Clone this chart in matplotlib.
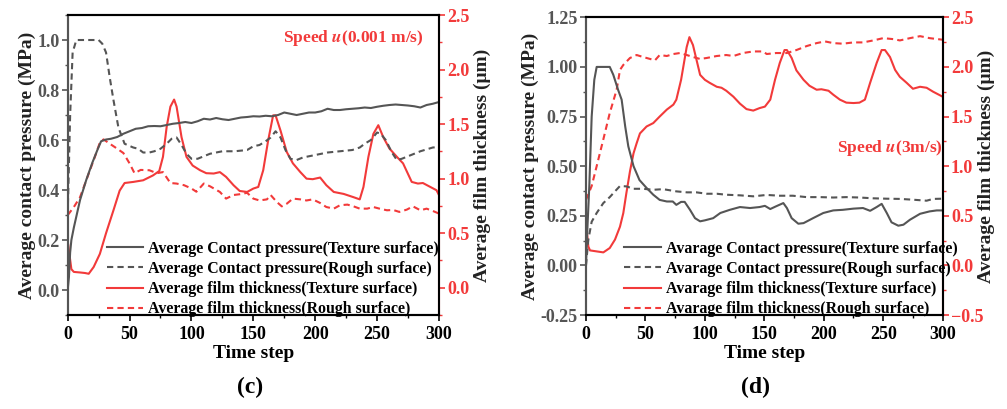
import numpy as np
import matplotlib
matplotlib.use("Agg")
import matplotlib.pyplot as plt
from matplotlib.ticker import MultipleLocator, FormatStrFormatter

plt.rcParams['font.family'] = ['Liberation Serif', 'DejaVu Serif']
plt.rcParams['font.weight'] = 'bold'
plt.rcParams['mathtext.fontset'] = 'stix'

GRAY = '#555555'
RED = '#f23a3a'

# ---------------- panel (c): speed 0.001 m/s ----------------
c_pt_t = [0, 1, 2, 3, 5, 10, 15, 20, 24, 27, 31, 35, 40, 45, 50, 55, 60, 65, 70, 75, 80, 85,
          90, 95, 100, 105, 110, 115, 120, 125, 130, 135, 140, 145, 150, 155, 160, 165, 170,
          175, 180, 185, 190, 195, 200, 205, 210, 215, 220, 225, 230, 235, 240, 245, 250, 255,
          260, 265, 270, 275, 280, 285, 290, 295, 300]
c_pt_p = [0.0, 0.05, 0.15, 0.2, 0.25, 0.36, 0.44, 0.51, 0.56, 0.595, 0.602, 0.605, 0.612,
          0.625, 0.635, 0.645, 0.648, 0.655, 0.656, 0.655, 0.66, 0.665, 0.668, 0.672, 0.668,
          0.675, 0.685, 0.682, 0.688, 0.683, 0.68, 0.685, 0.69, 0.692, 0.695, 0.694, 0.697,
          0.695, 0.70, 0.71, 0.705, 0.70, 0.705, 0.71, 0.71, 0.715, 0.725, 0.72, 0.72, 0.723,
          0.725, 0.727, 0.73, 0.728, 0.733, 0.737, 0.74, 0.742, 0.74, 0.738, 0.735, 0.73,
          0.74, 0.745, 0.752]

c_pr_t = [0, 2, 4, 7, 15, 25, 28, 31, 34, 37, 41, 46, 53, 57, 61, 66, 70, 75, 80, 84, 88, 92,
          96, 100, 105, 115, 125, 135, 145, 150, 155, 160, 164, 168, 172, 176, 180, 185, 190,
          200, 210, 220, 230, 236, 240, 245, 250, 253, 257, 262, 266, 270, 275, 285, 295, 300]
c_pr_p = [0.3, 0.7, 0.95, 1.0, 1.0, 1.0, 0.985, 0.95, 0.85, 0.76, 0.65, 0.585, 0.57, 0.565,
          0.55, 0.55, 0.555, 0.565, 0.585, 0.605, 0.61, 0.58, 0.545, 0.525, 0.525, 0.545,
          0.555, 0.555, 0.56, 0.575, 0.58, 0.595, 0.61, 0.635, 0.61, 0.56, 0.525, 0.52, 0.53,
          0.54, 0.55, 0.555, 0.56, 0.57, 0.585, 0.6, 0.63, 0.625, 0.6, 0.55, 0.52, 0.525,
          0.535, 0.555, 0.57, 0.572]

c_ft_t = [0, 1.5, 3, 5, 10, 14, 17, 21, 26, 31, 37, 42, 46, 53, 61, 69, 74, 77, 80, 83, 86,
          88, 92, 96, 101, 107, 112, 118, 123, 128, 134, 139, 145, 150, 154, 158, 162, 166,
          168, 172, 177, 182, 188, 193, 198, 204, 209, 215, 223, 231, 236, 239, 243, 247, 251,
          255, 260, 266, 271, 278, 283, 287, 293, 298, 300]
c_ft_h = [0.43, 0.3, 0.17, 0.145, 0.14, 0.135, 0.128, 0.19, 0.31, 0.5, 0.71, 0.89, 0.96, 0.97,
          0.985, 1.03, 1.07, 1.2, 1.475, 1.66, 1.725, 1.66, 1.38, 1.2, 1.12, 1.077, 1.05, 1.047,
          1.06, 1.016, 0.94, 0.887, 0.878, 0.909, 0.924, 1.077, 1.35, 1.58, 1.58, 1.44, 1.245,
          1.14, 1.06, 1.0, 0.995, 1.01, 0.94, 0.878, 0.86, 0.83, 0.81, 0.924, 1.2, 1.41, 1.49,
          1.38, 1.276, 1.2, 1.14, 0.97, 0.955, 0.96, 0.924, 0.894, 0.85]

c_fr_t = [0, 5, 10, 18, 22, 26, 29, 34, 38, 45, 50, 54, 59, 66, 72, 77, 83, 88, 94, 100, 104,
          110, 115, 123, 128, 134, 139, 145, 150, 155, 161, 164, 169, 173, 177, 182, 188, 193,
          198, 204, 209, 215, 220, 226, 231, 236, 242, 247, 252, 258, 263, 268, 274, 279, 285,
          290, 295, 300]
c_fr_h = [0.665, 0.74, 0.83, 1.077, 1.2, 1.33, 1.36, 1.32, 1.29, 1.235, 1.14, 1.05, 1.08,
          1.077, 1.05, 1.06, 0.96, 0.955, 0.94, 0.91, 0.88, 0.955, 0.93, 0.878, 0.817, 0.85,
          0.857, 0.87, 0.817, 0.8, 0.81, 0.85, 0.786, 0.746, 0.77, 0.817, 0.81, 0.8, 0.81,
          0.777, 0.74, 0.725, 0.756, 0.762, 0.746, 0.725, 0.725, 0.74, 0.725, 0.71, 0.713,
          0.695, 0.716, 0.746, 0.71, 0.725, 0.704, 0.68]

# ---------------- panel (d): speed 3 m/s ----------------
d_pt_t = [0, 1, 2.8, 4.8, 7, 9, 20, 23, 27, 30, 33, 35.6, 40, 45, 51, 56.6, 62, 68, 73, 76, 80,
          83, 87.5, 91.7, 96, 100, 107, 113, 121, 129.5, 138, 146, 150.5, 155, 160, 166, 169,
          173, 178.6, 183, 191, 199.6, 208, 216, 225, 233, 239, 244.5, 248.7, 253, 257, 262.7,
          267, 272.5, 281, 289, 295, 300]
d_pt_p = [0.0, 0.16, 0.4, 0.75, 0.935, 1.0, 1.0, 0.96, 0.885, 0.835, 0.7, 0.6, 0.5, 0.43, 0.39,
          0.356, 0.33, 0.322, 0.322, 0.305, 0.32, 0.32, 0.28, 0.238, 0.222, 0.227, 0.238,
          0.264, 0.28, 0.294, 0.289, 0.294, 0.30, 0.284, 0.298, 0.314, 0.289, 0.238, 0.21,
          0.213, 0.238, 0.264, 0.277, 0.28, 0.286, 0.289, 0.275, 0.294, 0.31, 0.264, 0.217,
          0.2, 0.205, 0.23, 0.26, 0.272, 0.277, 0.277]

d_pr_t = [0, 2, 4.8, 9, 14.6, 20, 24.4, 28.6, 34, 40, 48, 56.6, 65, 76, 85, 93, 101.5, 110,
          118, 129.5, 140.7, 152, 163, 174, 185.6, 197, 208, 219, 230, 241.7, 253, 264, 275,
          286.5, 292, 300]
d_pr_p = [0.0, 0.13, 0.22, 0.264, 0.314, 0.344, 0.373, 0.40, 0.398, 0.386, 0.386, 0.381,
          0.384, 0.373, 0.368, 0.368, 0.361, 0.361, 0.356, 0.353, 0.348, 0.355, 0.351, 0.351,
          0.344, 0.344, 0.342, 0.344, 0.342, 0.338, 0.336, 0.335, 0.331, 0.326, 0.335, 0.336]

d_ft_t = [0, 2, 3.4, 9, 14.6, 20, 24.4, 28.6, 31.4, 34, 37, 40, 42.6, 45.4, 51, 56.6, 62, 68,
          73.5, 76, 80, 84.7, 87, 90, 93, 96, 100, 104, 110, 114, 118, 124, 129.5, 135, 140.7,
          146, 150.5, 155, 159, 163, 167, 169, 173, 177, 183, 188, 194, 198, 204, 208, 213.6,
          219, 225, 230, 234.6, 239, 244.5, 248.7, 251.5, 255.7, 260, 264, 269.7, 275, 281,
          286.5, 292, 300]
d_ft_h = [0.427, 0.19, 0.151, 0.141, 0.131, 0.175, 0.26, 0.39, 0.527, 0.73, 0.947, 1.13, 1.23,
          1.33, 1.40, 1.434, 1.50, 1.57, 1.62, 1.67, 1.87, 2.2, 2.3, 2.22, 2.07, 1.92, 1.87,
          1.84, 1.80, 1.79, 1.76, 1.70, 1.63, 1.575, 1.56, 1.585, 1.60, 1.67, 1.87, 2.04, 2.17,
          2.17, 2.09, 1.965, 1.87, 1.81, 1.77, 1.775, 1.76, 1.72, 1.67, 1.64, 1.636, 1.64,
          1.67, 1.84, 2.04, 2.17, 2.17, 2.1, 1.97, 1.90, 1.84, 1.78, 1.80, 1.79, 1.75, 1.70]

d_fr_t = [0, 4.8, 9, 14.6, 20, 25.8, 28.6, 31.4, 37, 42.6, 48, 54, 58, 62, 68, 73.5, 79, 84.7,
          90, 96, 101.5, 110, 118, 124, 132, 140.7, 149, 152, 160, 169, 177, 185.6, 194, 201,
          208, 216, 225, 233, 241.7, 250, 258.5, 264, 272.5, 281, 289, 300]
d_fr_h = [0.66, 0.80, 1.0, 1.27, 1.535, 1.77, 1.97, 2.02, 2.09, 2.12, 2.10, 2.08, 2.066, 2.12,
          2.11, 2.13, 2.14, 2.12, 2.10, 2.08, 2.09, 2.11, 2.12, 2.11, 2.14, 2.156, 2.156, 2.13,
          2.14, 2.14, 2.17, 2.21, 2.24, 2.257, 2.24, 2.234, 2.247, 2.247, 2.267, 2.29, 2.28,
          2.267, 2.29, 2.31, 2.29, 2.274]

labels_c = ['Average Contact pressure(Texture surface)',
            'Average Contact pressure(Rough surface)',
            'Average film thickness(Texture surface)',
            'Average film thickness(Rough surface)']
labels_d = ['Avarage Contact pressure(Texture surface)',
            'Avarage Contact pressure(Rough surface)',
            'Avarage film thickness(Texture surface)',
            'Avarage film thickness(Rough surface)']


def style_axes(ax, ax2, rpad):
    ax.set_xlim(0, 300)
    ax.xaxis.set_major_locator(MultipleLocator(50))
    ax.xaxis.set_minor_locator(MultipleLocator(25))
    ax.tick_params(axis='x', which='both', direction='out', colors='black', labelsize=13,
                   pad=4)
    ax.tick_params(axis='x', which='major', length=4, width=1.2)
    ax.tick_params(axis='x', which='minor', length=2.5, width=1.0)
    ax.tick_params(axis='y', which='both', direction='out', colors=GRAY, labelsize=13, pad=2)
    ax.tick_params(axis='y', which='major', length=4, width=1.2)
    ax.tick_params(axis='y', which='minor', length=2.5, width=1.0)
    ax2.tick_params(axis='y', which='both', direction='out', colors=RED, labelsize=13, pad=2)
    ax2.tick_params(axis='y', which='major', length=4, width=1.2)
    ax2.tick_params(axis='y', which='minor', length=2.5, width=1.0)
    ax.spines['left'].set_color(GRAY)
    ax2.spines['left'].set_color(GRAY)
    ax2.spines['right'].set_color(RED)
    for a in (ax, ax2):
        for s in a.spines.values():
            s.set_linewidth(1.5)
    ax.set_xlabel('Time step', fontsize=14, fontweight='bold', labelpad=1.5)
    ax.set_ylabel('Average contact pressure (MPa)', fontsize=14, fontweight='bold',
                  color='#222222', labelpad=1)
    ax2.set_ylabel('Average film thickness (μm)', fontsize=14, fontweight='bold',
                   color='#222222', labelpad=rpad)


def draw_panel(ax, pt, pr, ft, fr, labels, lx):
    ax2 = ax.twinx()
    h1, = ax.plot(pt[0], pt[1], color=GRAY, lw=1.5)
    h2, = ax.plot(pr[0], pr[1], color=GRAY, lw=1.5, dashes=(3, 2))
    h3, = ax2.plot(ft[0], ft[1], color=RED, lw=1.5)
    h4, = ax2.plot(fr[0], fr[1], color=RED, lw=1.5, dashes=(3, 2))
    ax.set_zorder(ax2.get_zorder() + 1)
    ax.patch.set_visible(False)
    leg = ax.legend([h1, h2, h3, h4], labels, loc='lower left', frameon=False,
                    fontsize=11.4, handlelength=2.3, handletextpad=0.3,
                    labelspacing=0.27, borderaxespad=0.0, borderpad=0.0,
                    bbox_to_anchor=(lx, -0.008))
    for t in leg.get_texts():
        t.set_fontweight('bold')
    return ax2


fig = plt.figure(figsize=(10.07, 4.09), dpi=100)

axc = fig.add_axes([0.0672, 0.2298, 0.3687, 0.7335])
axc2 = draw_panel(axc, (c_pt_t, c_pt_p), (c_pr_t, c_pr_p), (c_ft_t, c_ft_h),
                  (c_fr_t, c_fr_h), labels_c, 0.105)
axc.set_ylim(-0.1, 1.1)
axc.yaxis.set_major_locator(MultipleLocator(0.2))
axc.yaxis.set_minor_locator(MultipleLocator(0.1))
axc2.set_ylim(-0.25, 2.5)
axc2.yaxis.set_major_locator(MultipleLocator(0.5))
axc2.yaxis.set_minor_locator(MultipleLocator(0.25))
style_axes(axc, axc2, 3)
axc.text(0.958, 0.925, 'Speed $\\boldsymbol{u}$(0.001 m/s)', transform=axc.transAxes,
         ha='right', va='center', color=RED, fontsize=12.5, fontweight='bold')

axd = fig.add_axes([0.5819, 0.2298, 0.3542, 0.7279])
axd2 = draw_panel(axd, (d_pt_t, d_pt_p), (d_pr_t, d_pr_p), (d_ft_t, d_ft_h),
                  (d_fr_t, d_fr_h), labels_d, 0.108)
axd.set_ylim(-0.25, 1.25)
axd.yaxis.set_major_locator(MultipleLocator(0.25))
axd.yaxis.set_minor_locator(MultipleLocator(0.125))
axd.yaxis.set_major_formatter(FormatStrFormatter('%.2f'))
axd2.set_ylim(-0.5, 2.5)
axd2.yaxis.set_major_locator(MultipleLocator(0.5))
axd2.yaxis.set_minor_locator(MultipleLocator(0.25))
style_axes(axd, axd2, -4)
axd.text(1.0, 0.56, 'Speed $\\boldsymbol{u}$(3m/s)', transform=axd.transAxes,
         ha='right', va='center', color=RED, fontsize=12.5, fontweight='bold')

fig.text(0.2485, 0.052, '(c)', ha='center', va='center', fontsize=17, fontweight='bold')
fig.text(0.750, 0.052, '(d)', ha='center', va='center', fontsize=17, fontweight='bold')

fig.savefig('out.png', dpi=100)
